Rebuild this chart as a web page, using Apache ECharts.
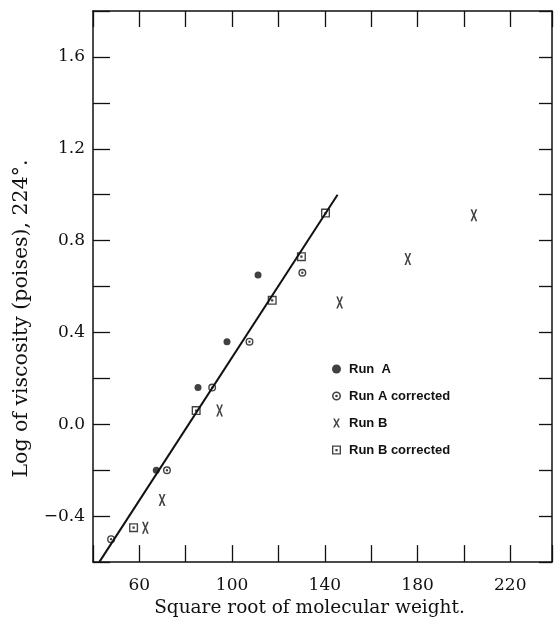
<!DOCTYPE html>
<html>
<head>
<meta charset="utf-8">
<script src="https://cdn.jsdelivr.net/npm/echarts@6/dist/echarts.min.js"></script>
<style>
  html, body { margin: 0; padding: 0; background: #fff; }
  #chart { width: 556px; height: 623px; }
</style>
</head>
<body>
<div id="chart"></div>
<script>
// values: [sqrt(M), log viscosity]
const runA = [[67.3, -0.2], [85.3, 0.16], [97.8, 0.36], [111.2, 0.65]];
const runACorrected = [[47.8, -0.5], [71.9, -0.2], [91.4, 0.16], [107.5, 0.36], [130.3, 0.66]];
const runB = [[62.6, -0.45], [69.8, -0.33], [94.6, 0.06], [146.4, 0.53], [175.8, 0.72], [204.3, 0.91]];
const runBCorrected = [[57.5, -0.45], [84.5, 0.06], [117.3, 0.54], [129.9, 0.73], [140.3, 0.92]];
// ends of the drawn straight line
const fitLine = [[42.7, -0.6], [145.5, 1.0]];

const xLabels = [60, 100, 140, 180, 220];
const yLabels = [-0.4, 0.0, 0.4, 0.8, 1.2, 1.6];

// marker shapes
const circleDot = "path://M0,10 A10,10 0 1,1 20,10 A10,10 0 1,1 0,10 Z M3.5,10 A6.5,6.5 0 1,0 16.5,10 A6.5,6.5 0 1,0 3.5,10 Z M7,10 A3,3 0 1,1 13,10 A3,3 0 1,1 7,10 Z";
const squareDot = "path://M0,0 L20,0 L20,20 L0,20 Z M3,3 L3,17 L17,17 L17,3 Z M7.5,7.5 L12.5,7.5 L12.5,12.5 L7.5,12.5 Z";
const crossX = "path://M0,0 L3.8,0 L7.5,7.4 L11.2,0 L15,0 L9.5,10 L15,20 L11.2,20 L7.5,12.6 L3.8,20 L0,20 L5.5,10 Z";

const serif = "DejaVu Serif";
const black = "#111";

let myChart = echarts.init(document.getElementById("chart"));

function xFmt(v) {
  return xLabels.indexOf(Math.round(v)) >= 0 && Math.abs(v - Math.round(v)) < 1e-6 ? String(Math.round(v)) : "";
}
function yFmt(v) {
  let hit = yLabels.some(l => Math.abs(l - v) < 1e-6);
  if (!hit) return "";
  let s = Math.abs(v).toFixed(1);
  return v < -1e-6 ? "\u2212" + s : s;
}

let axisLine = { show: true, onZero: false, lineStyle: { color: black, width: 1.5 } };

let option = {
  backgroundColor: "#fff",
  animation: false,
  grid: { left: 93, right: 4, top: 11, bottom: 59 },
  legend: {
    data: ["Run  A", "Run A corrected", "Run B", "Run B corrected"],
    orient: "vertical",
    left: 332,
    top: 362,
    padding: 0,
    itemGap: 13,
    itemWidth: 9,
    itemHeight: 9,
    selectedMode: false,
    textStyle: {
      fontFamily: "Liberation Sans",
      fontWeight: "bold",
      fontSize: 13,
      lineHeight: 14,
      color: black,
      padding: [0, 0, 0, 3]
    }
  },
  xAxis: [
    {
      type: "value",
      min: 40,
      max: 238,
      interval: 20,
      name: "Square root of molecular weight.",
      nameLocation: "middle",
      nameGap: 35,
      nameTextStyle: { fontFamily: serif, fontSize: 18.5, color: black, padding: [0, 26, 0, 0] },
      axisLine: axisLine,
      axisTick: { show: true, inside: true, length: 17, lineStyle: { color: black, width: 1.3 } },
      axisLabel: { formatter: xFmt, fontFamily: serif, fontSize: 17, color: black, margin: 15 },
      splitLine: { show: false }
    },
    {
      type: "value",
      position: "top",
      min: 40,
      max: 238,
      interval: 20,
      axisLine: axisLine,
      axisTick: { show: true, inside: true, length: 16, lineStyle: { color: black, width: 1.3 } },
      axisLabel: { show: false },
      splitLine: { show: false }
    }
  ],
  yAxis: [
    {
      type: "value",
      min: -0.6,
      max: 1.8,
      interval: 0.2,
      name: "Log of viscosity (poises), 224\u00b0.",
      nameLocation: "middle",
      nameGap: 61,
      nameTextStyle: { fontFamily: serif, fontSize: 20.5, color: black, padding: [0, 64, 0, 0] },
      axisLine: axisLine,
      axisTick: { show: true, inside: true, length: 17, lineStyle: { color: black, width: 1.3 } },
      axisLabel: { formatter: yFmt, fontFamily: serif, fontSize: 17, color: black, margin: 8 },
      splitLine: { show: false }
    },
    {
      type: "value",
      position: "right",
      min: -0.6,
      max: 1.8,
      interval: 0.2,
      axisLine: axisLine,
      axisTick: { show: true, inside: true, length: 13, lineStyle: { color: black, width: 1.3 } },
      axisLabel: { show: false },
      splitLine: { show: false }
    }
  ],
  series: [
    {
      name: "fit",
      type: "line",
      data: fitLine,
      showSymbol: false,
      symbol: "none",
      lineStyle: { color: black, width: 2 },
      z: 1
    },
    {
      name: "Run  A",
      type: "scatter",
      data: runA,
      symbol: "circle",
      symbolSize: 7,
      itemStyle: { color: black }
    },
    {
      name: "Run A corrected",
      type: "scatter",
      data: runACorrected,
      symbol: circleDot,
      symbolSize: 8,
      itemStyle: { color: black }
    },
    {
      name: "Run B",
      type: "scatter",
      data: runB,
      symbol: crossX,
      symbolKeepAspect: true,
      symbolSize: [9, 12],
      itemStyle: { color: black }
    },
    {
      name: "Run B corrected",
      type: "scatter",
      data: runBCorrected,
      symbol: squareDot,
      symbolSize: 9,
      itemStyle: { color: black }
    }
  ]
};

myChart.setOption(option);
</script>
</body>
</html>
